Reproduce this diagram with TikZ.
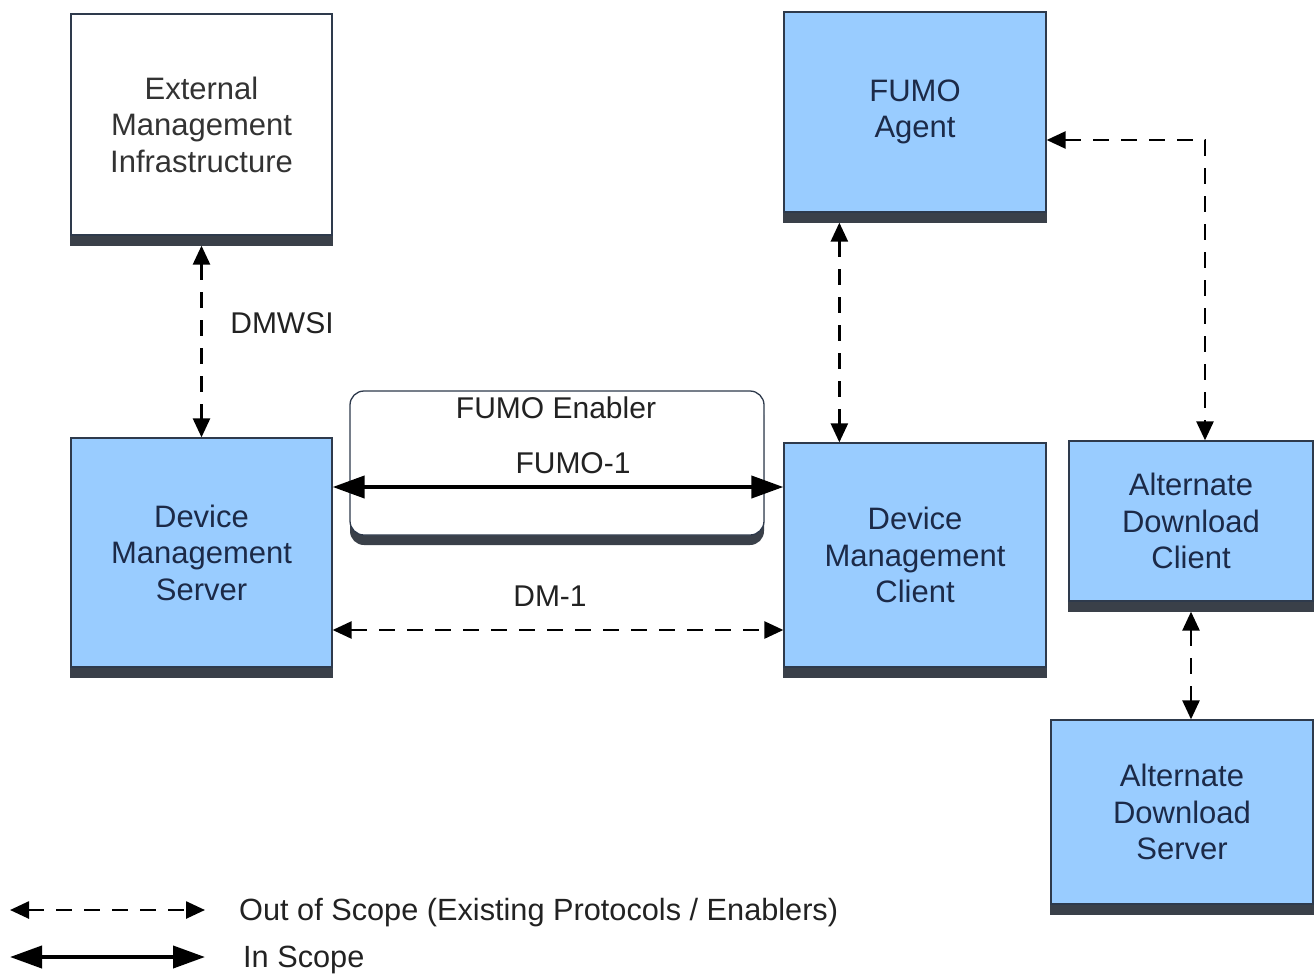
\documentclass[tikz,border=0pt]{standalone}
\usepackage{fontspec}
\setmainfont{Liberation Sans}
\usetikzlibrary{arrows.meta,shadows}
\definecolor{boxblue}{HTML}{99CCFF}
\definecolor{boxline}{HTML}{2E3A4C}
\definecolor{barblue}{HTML}{3A4049}
\definecolor{navytext}{HTML}{1C2A48}
\definecolor{graytext}{HTML}{333333}
\definecolor{lbltext}{HTML}{222222}
\begin{document}
\begin{tikzpicture}[x=1pt,y=-1pt,
  box/.style={draw=boxline, line width=1.3pt, fill=boxblue, text=navytext, inner sep=0pt,
    align=center, font=\fontsize{31}{36.5}\selectfont},
  whitebox/.style={box, fill=white, text=graytext},
  encl/.style={draw=boxline, line width=1.3pt, fill=white, rounded corners=14pt, inner sep=0pt,
    minimum width=414pt, minimum height=144pt,
    drop shadow={shadow xshift=0pt, shadow yshift=-10pt, fill=barblue, opacity=1}},
  lbl/.style={text=lbltext, font=\fontsize{30}{34}\selectfont, inner sep=0pt, text height=0.72em, text depth=0pt},
  oos/.style={line width=2.6pt, dash pattern=on 16pt off 12pt,
    arrows={Triangle[length=19pt,width=17pt]-Triangle[length=19pt,width=17pt]}},
  ins/.style={line width=4pt,
    arrows={Triangle[length=32pt,width=22pt]-Triangle[length=32pt,width=22pt]}}
]
\useasboundingbox (0,0) rectangle (1316,974);

% boxes
\node[whitebox, minimum width=261pt, minimum height=221pt] (emi) at (201.5,124.5) {External\\Management\\Infrastructure};
\node[box, minimum width=262pt, minimum height=200pt] (agent) at (915,112) {FUMO\\Agent};
\node[box, minimum width=261pt, minimum height=229pt] (dms) at (201.5,552.5) {Device\\Management\\Server};
\node[box, minimum width=262pt, minimum height=224pt] (dmc) at (915,555) {Device\\Management\\Client};
\node[box, minimum width=244pt, minimum height=160pt] (adc) at (1191,521) {Alternate\\Download\\Client};
\node[box, minimum width=262pt, minimum height=184pt] (ads) at (1182,812) {Alternate\\Download\\Server};

\foreach \n in {emi,agent,dms,dmc,adc,ads}
  \fill[barblue] (\n.south west) rectangle ([yshift=-10pt]\n.south east);

% enabler
\node[encl] (enabler) at (557,463) {};
\node[lbl] (enlbl) at (556,415) {FUMO Enabler};

% connectors
\draw[oos] ([yshift=-10pt]emi.south) -- (dms.north);
\node[lbl] (dmwsi) at (282,330) {DMWSI};

\draw[oos] ([shift={(56pt,-10pt)}]agent.south west) -- ([xshift=56pt]dmc.north west);

\coordinate (ag) at ([yshift=-28pt]agent.east);
\coordinate (ac) at ([xshift=14pt]adc.north);
\draw[oos] (ag) -| (ac);

\coordinate (adcb) at ([yshift=-10pt]adc.south);
\draw[oos] (adcb) -- (adcb |- ads.north);

\coordinate (f1) at ([yshift=65.5pt]dms.east);
\draw[ins] (f1) -- (f1 -| dmc.west);
\node[lbl] (fumo1) at (573,470) {FUMO-1};

\coordinate (d1) at ([yshift=-77.5pt]dms.east);
\draw[oos] (d1) -- (d1 -| dmc.west);
\node[lbl] (dm1) at (550,603) {DM-1};

% legend
\coordinate (la1) at (10,910);
\coordinate (la2) at (205,910);
\draw[oos] (la1) -- (la2);
\node[lbl, anchor=west, font=\fontsize{30.7}{34}\selectfont] (lt1) at (239,917) {Out of Scope (Existing Protocols / Enablers)};
\coordinate (lb1) at (10,957);
\coordinate (lb2) at (205,957);
\draw[ins] (lb1) -- (lb2);
\node[lbl, anchor=west, font=\fontsize{30.7}{34}\selectfont] (lt2) at (243,964) {In Scope};
\end{tikzpicture}
\end{document}
